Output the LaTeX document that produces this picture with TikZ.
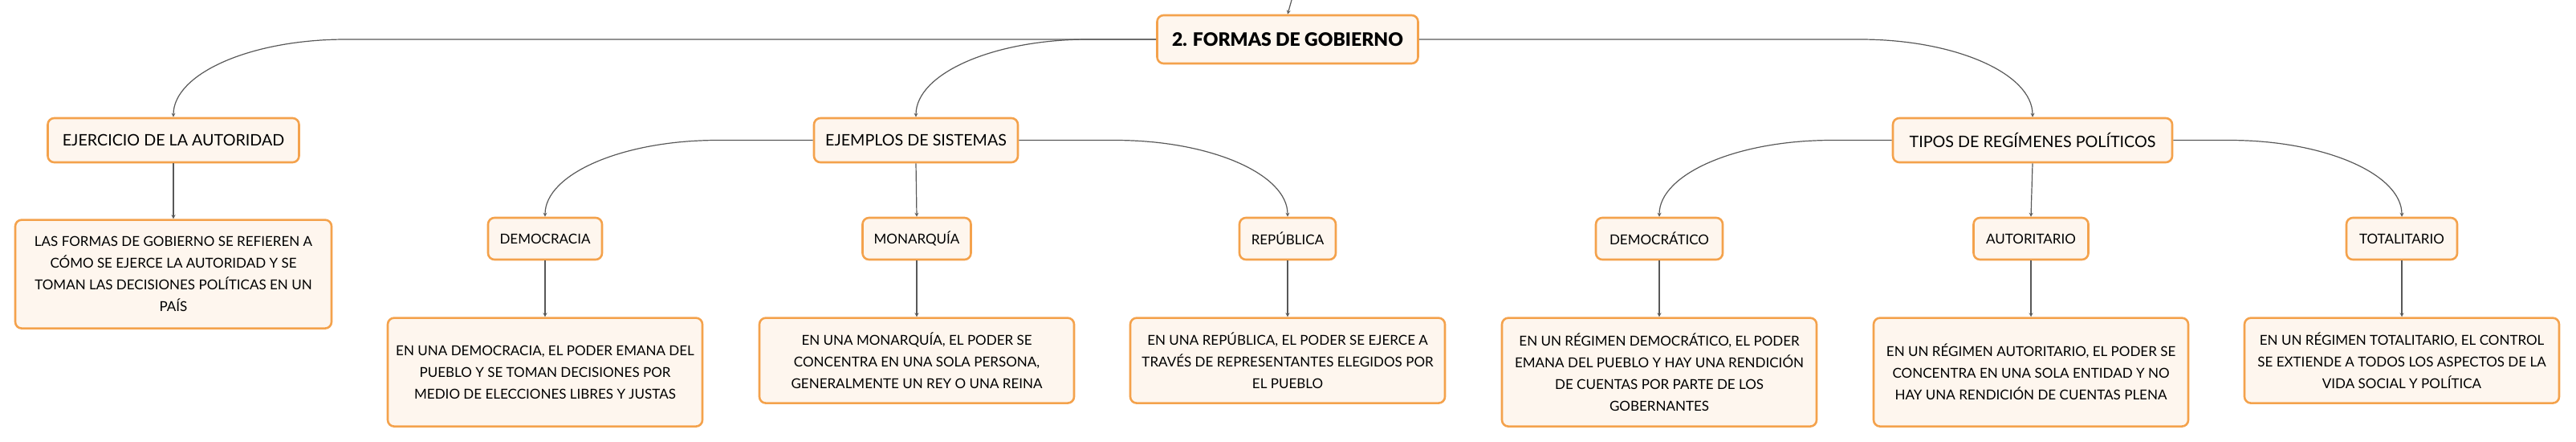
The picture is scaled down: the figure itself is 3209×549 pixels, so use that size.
\documentclass[tikz,border=0pt]{standalone}
\usepackage{fontspec}
\setmainfont{Lato}
\newfontfamily\negra{Lato Black}
\usetikzlibrary{shapes.geometric, arrows, positioning, calc}
\definecolor{borde}{HTML}{F4A24C}
\definecolor{relleno}{HTML}{FEF6EE}
\definecolor{linea}{HTML}{585858}
\tikzstyle{rec} = [rectangle, rounded corners=8pt, text centered, draw=borde, fill=relleno, line width=2.6pt, font=\fontsize{17}{27}\selectfont, inner sep=0pt]
\tikzstyle{tema} = [rec, minimum height=55pt, font=\fontsize{19.7}{27}\selectfont]
\tikzstyle{txt} = [rec, align=center, minimum width=392pt]
\tikzstyle{arrow} = [draw=linea, line width=1.2pt, ->, >=stealth]

\begin{document}
\begin{tikzpicture}[x=1pt, y=-1pt]
		\useasboundingbox (0,0) rectangle (3209,549);
		\node (raiz) [rec, minimum width=325pt, minimum height=60pt, font=\fontsize{23}{27}\selectfont\negra] at (1604,49) {2. FORMAS DE GOBIERNO};
		\node (ejercicio) [tema, minimum width=313pt] at (216,174.5) {EJERCICIO DE LA AUTORIDAD};
		\node (ejemplos) [tema, minimum width=254pt] at (1141,174.5) {EJEMPLOS DE SISTEMAS};
		\node (tipos) [tema, minimum width=348pt] at (2532,174.5) {TIPOS DE REGÍMENES POLÍTICOS};
		\node (democracia) [rec, minimum width=142pt, minimum height=52pt] at (679,297) {DEMOCRACIA};
		\node (monarquia) [rec, minimum width=135pt, minimum height=52pt] at (1142,297) {MONARQUÍA};
		\node (republica) [rec, minimum width=120pt, minimum height=52pt] at (1604,297) {REPÚBLICA};
		\node (democratico) [rec, minimum width=158pt, minimum height=52pt] at (2067,297) {DEMOCRÁTICO};
		\node (autoritario) [rec, minimum width=143pt, minimum height=52pt] at (2530,297) {AUTORITARIO};
		\node (totalitario) [rec, minimum width=138pt, minimum height=52pt] at (2992,297) {TOTALITARIO};
		\node (ejerciciotxt) [txt, minimum width=394pt, minimum height=135pt, below=69pt of ejercicio] {LAS FORMAS DE GOBIERNO SE REFIEREN A\\CÓMO SE EJERCE LA AUTORIDAD Y SE\\TOMAN LAS DECISIONES POLÍTICAS EN UN\\PAÍS};
		\node (democraciatxt) [txt, minimum height=135pt, below=70pt of democracia] {EN UNA DEMOCRACIA, EL PODER EMANA DEL\\PUEBLO Y SE TOMAN DECISIONES POR\\MEDIO DE ELECCIONES LIBRES Y JUSTAS};
		\node (monarquiatxt) [txt, minimum height=106pt, below=70pt of monarquia] {EN UNA MONARQUÍA, EL PODER SE\\CONCENTRA EN UNA SOLA PERSONA,\\GENERALMENTE UN REY O UNA REINA};
		\node (republicatxt) [txt, minimum height=106pt, below=70pt of republica] {EN UNA REPÚBLICA, EL PODER SE EJERCE A\\TRAVÉS DE REPRESENTANTES ELEGIDOS POR\\EL PUEBLO};
		\node (democraticotxt) [txt, minimum height=135pt, below=70pt of democratico] {EN UN RÉGIMEN DEMOCRÁTICO, EL PODER\\EMANA DEL PUEBLO Y HAY UNA RENDICIÓN\\DE CUENTAS POR PARTE DE LOS\\GOBERNANTES};
		\node (autoritariotxt) [txt, minimum height=135pt, below=70pt of autoritario] {EN UN RÉGIMEN AUTORITARIO, EL PODER SE\\CONCENTRA EN UNA SOLA ENTIDAD Y NO\\HAY UNA RENDICIÓN DE CUENTAS PLENA};
		\node (totalitariotxt) [txt, minimum height=106pt, below=70pt of totalitario] {EN UN RÉGIMEN TOTALITARIO, EL CONTROL\\SE EXTIENDE A TODOS LOS ASPECTOS DE LA\\VIDA SOCIAL Y POLÍTICA};
		\coordinate (arriba) at (1609,0);
		\draw [arrow] (arriba) -- (raiz.north);
		\draw [arrow] (raiz.west) -- ($(ejercicio.north |- raiz.west)+(215,0)$) .. controls +(-119,0) and +(0,-54) .. (ejercicio.north);
		\draw [arrow] (raiz.west) -- ($(ejemplos.north |- raiz.west)+(215,0)$) .. controls +(-119,0) and +(0,-54) .. (ejemplos.north);
		\draw [arrow] (raiz.east) -- ($(tipos.north |- raiz.east)+(-215,0)$) .. controls +(119,0) and +(0,-54) .. (tipos.north);
		\draw [arrow] (ejemplos.west) -- ($(democracia.north |- ejemplos.west)+(215,0)$) .. controls +(-119,0) and +(0,-53) .. (democracia.north);
		\draw [arrow] (ejemplos.south) -- (monarquia.north);
		\draw [arrow] (ejemplos.east) -- ($(republica.north |- ejemplos.east)+(-215,0)$) .. controls +(119,0) and +(0,-53) .. (republica.north);
		\draw [arrow] (tipos.west) -- ($(democratico.north |- tipos.west)+(215,0)$) .. controls +(-119,0) and +(0,-53) .. (democratico.north);
		\draw [arrow] (tipos.south) -- (autoritario.north);
		\draw [arrow] (tipos.east) -- ($(totalitario.north |- tipos.east)+(-215,0)$) .. controls +(119,0) and +(0,-53) .. (totalitario.north);
		\draw [arrow] (ejercicio.south) -- (ejerciciotxt.north);
		\draw [arrow] (democracia.south) -- (democraciatxt.north);
		\draw [arrow] (monarquia.south) -- (monarquiatxt.north);
		\draw [arrow] (republica.south) -- (republicatxt.north);
		\draw [arrow] (democratico.south) -- (democraticotxt.north);
		\draw [arrow] (autoritario.south) -- (autoritariotxt.north);
		\draw [arrow] (totalitario.south) -- (totalitariotxt.north);
	\end{tikzpicture}
\end{document}
